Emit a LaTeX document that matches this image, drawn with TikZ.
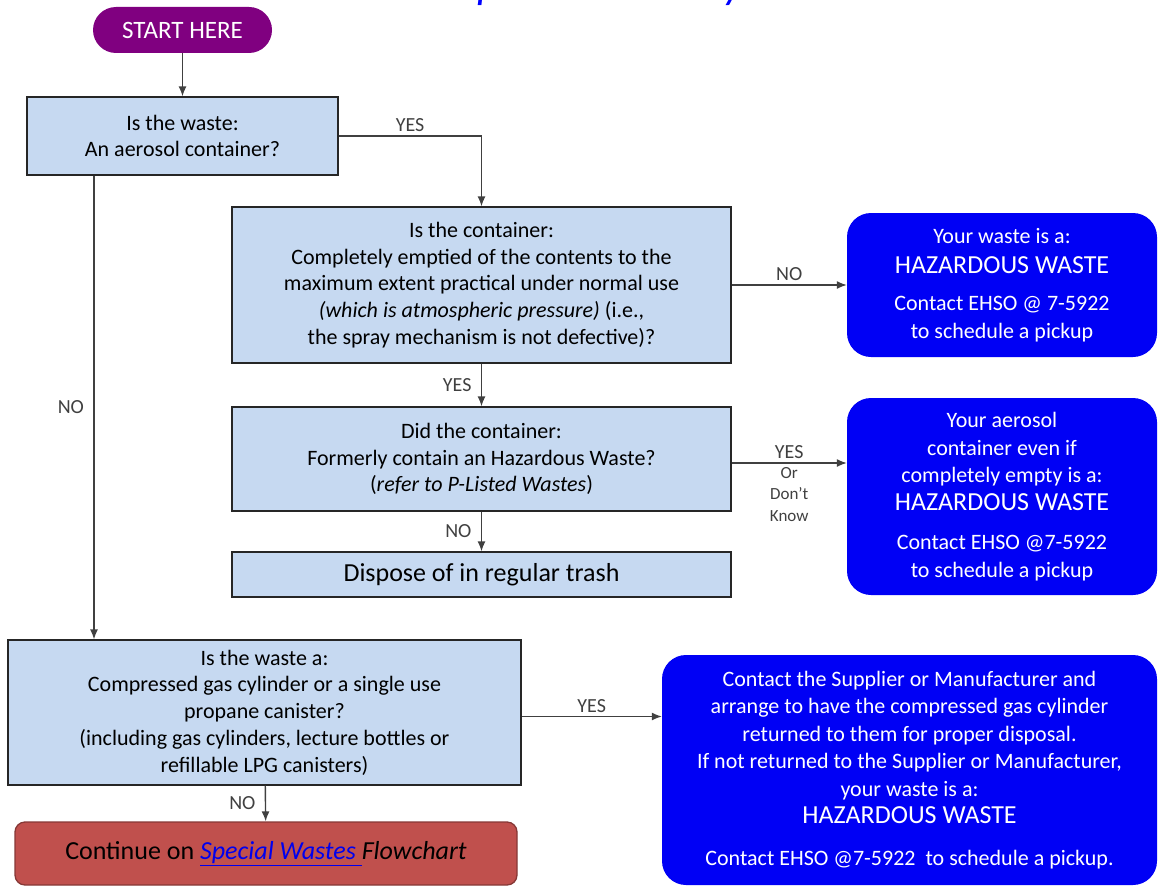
\documentclass[tikz,border=0pt]{standalone}
\usepackage{fontspec}
\setmainfont{Carlito}
\usetikzlibrary{arrows.meta}
\definecolor{qfill}{HTML}{C6D9F1}
\definecolor{hzblue}{HTML}{0000F5}
\definecolor{startpurple}{HTML}{800080}
\definecolor{contred}{HTML}{C0504D}
\definecolor{linkblue}{HTML}{0000EE}
\newcommand{\hzw}{{\fontsize{26}{30}\selectfont HAZARDOUS WASTE}}
\begin{document}
\begin{tikzpicture}[x=1pt,y=-1pt,
  qbox/.style={draw=black!85,line width=1.3pt,fill=qfill,align=center,inner sep=0pt,font=\fontsize{22}{26.7}\selectfont},
  hzbox/.style={fill=hzblue,rounded corners=24pt,text=white,align=center,inner sep=0pt,font=\fontsize{22}{27.5}\selectfont},
  lbl/.style={font=\fontsize{20}{22}\selectfont},
  conn/.style={-{Latex[length=10pt,width=8pt]},line width=1.4pt,black!75}]
\useasboundingbox (0,0) rectangle (1158,888);
\begin{scope}
\clip (0,0) rectangle (1158,888);
\node[anchor=base,text=blue,font=\fontsize{44}{48}\selectfont\itshape] (title) at (730,-1) {Compressed Gas Cylinders \& Aerosols};
\end{scope}
\node[fill=startpurple,text=white,rounded corners=23pt,minimum width=179pt,minimum height=46pt,font=\fontsize{25}{28}\selectfont] (start) at (182.5,30) {START HERE};
\node[qbox,minimum width=311pt,minimum height=78pt] (q1) at (182.5,136) {Is the waste:\\An aerosol container?};
\node[qbox,minimum width=499pt,minimum height=156pt] (q2) at (481.5,285) {Is the container:\\Completely emptied of the contents to the\\maximum extent practical under normal use\\\textit{(which is atmospheric pressure)} (i.e.,\\the spray mechanism is not defective)?};
\node[hzbox,minimum width=310pt,minimum height=144pt] (hz1) at (1002,285) {Your waste is a:\\[2pt]\hzw\\[10pt]Contact EHSO @ 7-5922\\to schedule a pickup};
\node[qbox,minimum width=499pt,minimum height=104pt] (q3) at (481.5,459) {Did the container:\\Formerly contain an Hazardous Waste?\\(\textit{refer to P-Listed Wastes})};
\node[hzbox,minimum width=310pt,minimum height=197pt] (hz2) at (1002,496.5) {Your aerosol\\container even if\\completely empty is a:\\\hzw\\[12pt]Contact EHSO @7-5922\\to schedule a pickup};
\node[qbox,minimum width=499pt,minimum height=45pt,font=\fontsize{26}{28}\selectfont] (trash) at (481.5,574.5) {Dispose of in regular trash};
\node[qbox,minimum width=513pt,minimum height=145pt] (q4) at (264.5,712.5) {Is the waste a:\\Compressed gas cylinder or a single use\\propane canister?\\(including gas cylinders, lecture bottles or\\refillable LPG canisters)};
\node[hzbox,minimum width=495pt,minimum height=230pt] (hz3) at (909.5,770) {Contact the Supplier or Manufacturer and\\arrange to have the compressed gas cylinder\\returned to them for proper disposal.\\If not returned to the Supplier or Manufacturer,\\your waste is a:\\\hzw\\[14pt]Contact EHSO @7-5922~ to schedule a pickup.};
\node[draw=contred!70!black,line width=1.3pt,fill=contred,rounded corners=10pt,minimum width=502pt,minimum height=63pt,font=\fontsize{26}{28}\selectfont] (cont) at (266,853.5) {Continue on \textcolor{linkblue}{\underline{\textit{Special Wastes }}}\textit{Flowchart}};
\coordinate (nox) at (94,0);
\draw[conn] (start) -- (q1);
\draw[conn] (q1.east) -| (q2) node[lbl,pos=0.25,above]{YES};
\draw[conn] (q1.south -| nox) -- (q4.north -| nox) node[lbl,midway,left=6pt]{NO};
\draw[conn] (q2) -- (hz1) node[lbl,midway,above]{NO};
\draw[conn] (q2) -- (q3) node[lbl,midway,left=6pt]{YES};
\draw[conn] (q3.east) ++(0,4) coordinate (q3e) -- (q3e -| hz2.west) node[lbl,midway,above]{YES} node[midway,below,align=center,font=\fontsize{17}{21.5}\selectfont]{Or\\Don't\\Know};
\draw[conn] (q3) -- (trash) node[lbl,midway,left=6pt]{NO};
\draw[conn] (q4.east) ++(0,4) coordinate (q4e) -- (q4e -| hz3.west) node[lbl,midway,above]{YES};
\draw[conn] (q4) -- (cont) node[lbl,midway,left=6pt]{NO};
\end{tikzpicture}
\end{document}
